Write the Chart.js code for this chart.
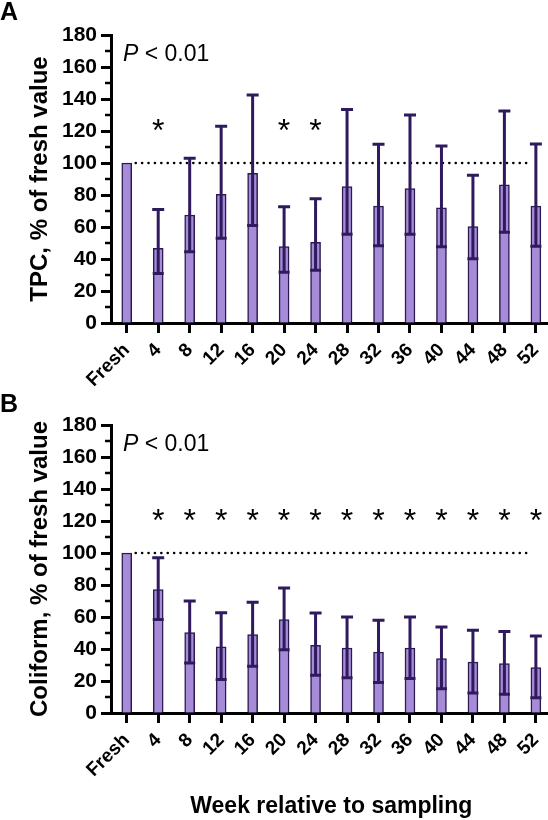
<!DOCTYPE html>
<html>
<head>
<meta charset="utf-8">
<script src="https://cdn.jsdelivr.net/npm/chart.js@4.4.0/dist/chart.umd.min.js"></script>
<style>
  html, body { margin: 0; padding: 0; background: #fff; width: 548px; height: 820px; overflow: hidden; }
  .panel { position: absolute; left: 0; width: 558px; }
  #boxA { top: 0; height: 400px; }
  #boxB { top: 390px; height: 430px; }
  .letter { position: absolute; left: 0; font: bold 25px Arial, "Liberation Sans", sans-serif; line-height: 25px; }
</style>
</head>
<body>
<div class="panel" id="boxA"><canvas id="chartA"></canvas></div>
<div class="panel" id="boxB"><canvas id="chartB"></canvas></div>
<div class="letter" style="top:-1px">A</div>
<div class="letter" style="top:391px">B</div>

<script>
const weeks = ["Fresh", "4", "8", "12", "16", "20", "24", "28", "32", "36", "40", "44", "48", "52"];

// panel A: total plate count
const tpcMean  = [100, 46.7, 67.5, 80.4, 93.5, 47.7, 50.4, 85.2, 73.0, 84.0, 72.0, 60.2, 86.3, 73.0];
const tpcUpper = [null, 71, 103, 123, 142.5, 72.7, 77.7, 133.5, 111.7, 130, 110.6, 92.3, 132.5, 111.9];
const tpcLower = [null, 31, 44.6, 53, 61, 31.7, 33, 55.4, 48.3, 55.4, 47.7, 40.2, 56.7, 48];
const tpcStars = [false, true, false, false, false, true, true, false, false, false, false, false, false, false];

// panel B: coliform
const coliMean  = [100, 77.1, 50.2, 41.3, 49.0, 58.4, 42.3, 40.6, 38.1, 40.6, 34.0, 31.9, 30.9, 28.4];
const coliUpper = [null, 97, 70, 62.7, 69.2, 78.1, 62.5, 60, 57.9, 60, 53.8, 51.7, 51, 48.1];
const coliLower = [null, 58.4, 31.3, 20.9, 29.2, 39.6, 23.6, 22.1, 19, 21.5, 15.2, 12.5, 11.7, 9.6];
const coliStars = [false, true, true, true, true, true, true, true, true, true, true, true, true, true];

const yTicks = [0, 20, 40, 60, 80, 100, 120, 140, 160, 180];
const yMinorTicks = [10, 30, 50, 70, 90, 110, 130, 150, 170];

const FONT = 'Arial, "Liberation Sans", sans-serif';
const DARK = "#2e1a5c";

const extrasPlugin = {
  id: "extras",
  beforeDatasetsDraw(chart, args, opts) {
    const { ctx } = chart;
    const y = chart.scales.y;
    const bars = chart.getDatasetMeta(0).data;
    const first = bars[0], last = bars[bars.length - 1];
    const yy = y.getPixelForValue(opts.refValue);
    ctx.save();
    ctx.strokeStyle = "#000";
    ctx.lineWidth = 2.6;
    ctx.lineCap = "round";
    ctx.setLineDash([0, 6.4]);
    ctx.beginPath();
    ctx.moveTo(first.x + first.width / 2 + 4, yy);
    ctx.lineTo(last.x - last.width / 2 - 4, yy);
    ctx.stroke();
    ctx.restore();
  },
  afterDatasetsDraw(chart, args, opts) {
    const { ctx, chartArea } = chart;
    const y = chart.scales.y;
    const bars = chart.getDatasetMeta(0).data;
    ctx.save();

    // error bars
    ctx.strokeStyle = DARK;
    ctx.lineWidth = 3;
    bars.forEach((bar, i) => {
      if (opts.upper[i] == null) return;
      const yu = y.getPixelForValue(opts.upper[i]);
      const yl = y.getPixelForValue(opts.lower[i]);
      ctx.beginPath();
      ctx.moveTo(bar.x, yl);
      ctx.lineTo(bar.x, yu);
      ctx.moveTo(bar.x - 6, yu);
      ctx.lineTo(bar.x + 6, yu);
      ctx.moveTo(bar.x - 5.5, yl);
      ctx.lineTo(bar.x + 5.5, yl);
      ctx.stroke();
    });

    // significance stars
    ctx.fillStyle = "#000";
    ctx.font = "32px " + FONT;
    ctx.textAlign = "center";
    ctx.textBaseline = "alphabetic";
    bars.forEach((bar, i) => {
      if (!opts.stars[i]) return;
      ctx.fillText("*", bar.x, y.getPixelForValue(opts.starValue) + 16);
    });

    // P value
    const px = chartArea.left + 12, py = chartArea.top + 26;
    ctx.textAlign = "left";
    ctx.font = "italic 23px " + FONT;
    ctx.fillText("P", px, py);
    const w = ctx.measureText("P").width;
    ctx.font = "23px " + FONT;
    ctx.fillText(" < 0.01", px + w, py);

    // minor y ticks
    ctx.strokeStyle = "#000";
    ctx.lineWidth = 2.5;
    yMinorTicks.forEach(v => {
      const yy = y.getPixelForValue(v);
      ctx.beginPath();
      ctx.moveTo(chartArea.left, yy);
      ctx.lineTo(chartArea.left - 6, yy);
      ctx.stroke();
    });
    ctx.restore();
  }
};

function makeChart(id, height, yTitle, mean, upper, lower, stars, xTitle) {
  return new Chart(document.getElementById(id), {
    type: "bar",
    data: {
      labels: weeks,
      datasets: [{
        data: mean,
        backgroundColor: "#a58bd8",
        borderColor: "#2a1a50",
        borderWidth: 1.5,
        barThickness: 10
      }]
    },
    options: {
      responsive: true,
      maintainAspectRatio: false,
      animation: false,
      layout: { padding: { top: 35, left: 0, right: 0, bottom: 0 } },
      plugins: {
        legend: { display: false },
        tooltip: { enabled: false },
        extras: { upper: upper, lower: lower, stars: stars, starValue: 124, refValue: 100 }
      },
      scales: {
        x: {
          grid: { display: true, drawOnChartArea: false, offset: false, tickLength: 10, tickWidth: 3, tickColor: "#000" },
          border: { color: "#000", width: 3 },
          ticks: { color: "#000", font: { family: FONT, size: 19, weight: "bold" }, minRotation: 45, maxRotation: 45, autoSkip: false, padding: 6 },
          title: {
            display: !!xTitle,
            text: xTitle || "",
            color: "#000",
            font: { family: FONT, size: 23, weight: "bold" },
            padding: { top: 0, bottom: 0 }
          },
          afterFit: s => { s.height = height - 323; }
        },
        y: {
          min: 0,
          max: 180,
          afterBuildTicks: s => { s.ticks = yTicks.map(v => ({ value: v })); },
          grid: { display: true, drawOnChartArea: false, tickLength: 10, tickWidth: 3, tickColor: "#000" },
          border: { color: "#000", width: 3 },
          ticks: { color: "#000", font: { family: FONT, size: 21, weight: "bold" }, padding: 4 },
          title: {
            display: true,
            text: yTitle,
            color: "#000",
            font: { family: FONT, size: 24, weight: "bold" },
            padding: { top: 26, bottom: 0 }
          },
          afterFit: s => { s.width = 111; }
        }
      }
    },
    plugins: [extrasPlugin]
  });
}

makeChart("chartA", 400, "TPC, % of fresh value", tpcMean, tpcUpper, tpcLower, tpcStars, null);
makeChart("chartB", 430, "Coliform, % of fresh value", coliMean, coliUpper, coliLower, coliStars, "Week relative to sampling");
</script>
</body>
</html>
